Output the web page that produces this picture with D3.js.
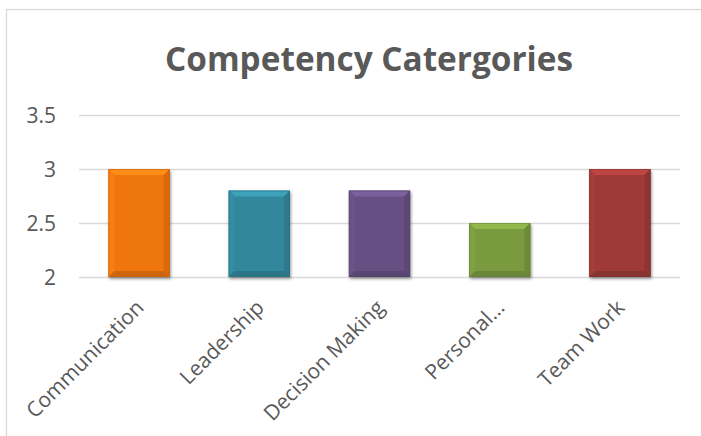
<!DOCTYPE html>
<html>
<head>
<meta charset="utf-8">
<script src="https://cdn.jsdelivr.net/npm/d3@7"></script>
<style>
  html, body { margin: 0; padding: 0; background: #fff; }
  svg { display: block; }
  text { font-family: "Open Sans", "DejaVu Sans", sans-serif; fill: #595959; }
</style>
</head>
<body>
<svg id="chart" width="701" height="436"></svg>
<script>
// Average score per competency category
const categories = ["Communication", "Leadership", "Decision Making", "Personal…", "Team Work"];
const scores = [3.0, 2.8, 2.8, 2.5, 3.0];
const barColors = ["#EF7611", "#32879C", "#665083", "#7A9A3F", "#9E3A38"];
const yTicks = [2, 2.5, 3, 3.5];
const yTickLabels = ["2", "2.5", "3", "3.5"];
const title = "Competency Catergories";

const svg = d3.select("#chart");
const plot = { left: 79, right: 680, top: 115, bottom: 277 };

// chart frame
svg.append("rect")
  .attr("x", 6.5).attr("y", 9.5)
  .attr("width", 760).attr("height", 500)
  .attr("fill", "#fff").attr("stroke", "#d9d9d9").attr("stroke-width", 1.3);

// soft drop shadow under the bars
const defs = svg.append("defs");
const shadow = defs.append("filter").attr("id", "shadow")
  .attr("x", "-20%").attr("y", "-20%").attr("width", "140%").attr("height", "140%");
shadow.append("feGaussianBlur").attr("in", "SourceAlpha").attr("stdDeviation", 1.6);
shadow.append("feOffset").attr("dx", 0.5).attr("dy", 1.5).attr("result", "blur");
shadow.append("feComponentTransfer").append("feFuncA").attr("type", "linear").attr("slope", 0.4);
const merge = shadow.append("feMerge");
merge.append("feMergeNode");
merge.append("feMergeNode").attr("in", "SourceGraphic");

const x = d3.scaleBand().domain(categories).range([plot.left, plot.right]).paddingInner(0.49).paddingOuter(0.245);
const y = d3.scaleLinear().domain([2, 3.5]).range([plot.bottom, plot.top]);

// title
svg.append("text")
  .attr("x", 369).attr("y", 71)
  .attr("text-anchor", "middle")
  .attr("textLength", 408).attr("lengthAdjust", "spacingAndGlyphs")
  .style("font-size", "34px").style("font-weight", "700")
  .text(title);

// gridlines
svg.append("g").selectAll("line").data(yTicks).join("line")
  .attr("x1", plot.left).attr("x2", plot.right)
  .attr("y1", d => Math.round(y(d)) + 0.5).attr("y2", d => Math.round(y(d)) + 0.5)
  .attr("stroke", "#d9d9d9").attr("stroke-width", 1.3);

// y axis labels
const yAxis = d3.axisLeft(y).tickValues(yTicks)
  .tickFormat((d, i) => yTickLabels[i]).tickSize(0).tickPadding(0);
const gy = svg.append("g").attr("transform", "translate(56,0)").call(yAxis);
gy.select(".domain").remove();
gy.selectAll("text").style("font-size", "21px").attr("fill", "#595959").attr("dy", "0.34em")
  .style("font-family", '"Open Sans", sans-serif');

// bars with bevelled edges
const bev = 6;
const bars = svg.append("g").selectAll("g").data(categories).join("g")
  .attr("filter", "url(#shadow)");
bars.each(function (c, i) {
  const g = d3.select(this);
  const x0 = x(c), w = x.bandwidth();
  const y0 = y(scores[i]), y1 = y(2);
  const base = d3.color(barColors[i]);
  g.append("rect").attr("x", x0).attr("y", y0).attr("width", w).attr("height", y1 - y0).attr("fill", base);
  const pts = (arr) => arr.map(p => p.join(",")).join(" ");
  g.append("polygon").attr("points", pts([[x0, y0], [x0 + w, y0], [x0 + w - bev, y0 + bev], [x0 + bev, y0 + bev]]))
    .attr("fill", base.brighter(0.5));
  g.append("polygon").attr("points", pts([[x0, y0], [x0 + bev, y0 + bev], [x0 + bev, y1 - bev], [x0, y1]]))
    .attr("fill", base.brighter(0.12));
  g.append("polygon").attr("points", pts([[x0 + w, y0], [x0 + w, y1], [x0 + w - bev, y1 - bev], [x0 + w - bev, y0 + bev]]))
    .attr("fill", base.darker(0.3));
  g.append("polygon").attr("points", pts([[x0, y1], [x0 + bev, y1 - bev], [x0 + w - bev, y1 - bev], [x0 + w, y1]]))
    .attr("fill", base.darker(0.4));
  g.append("rect").attr("x", x0 + 0.5).attr("y", y0 + 0.5).attr("width", w - 1).attr("height", y1 - y0 - 1)
    .attr("fill", "none").attr("stroke", base.darker(0.6)).attr("stroke-opacity", 0.5);
});

// category labels, rotated
const xAxis = d3.axisBottom(x).tickSize(0).tickPadding(0);
const gx = svg.append("g").attr("transform", `translate(0,${plot.bottom})`).call(xAxis);
gx.select(".domain").remove();
gx.selectAll("text")
  .style("font-size", "21px").style("font-family", '"Open Sans", sans-serif').attr("fill", "#595959")
  .attr("text-anchor", "end")
  .attr("dy", null).attr("y", 0)
  .attr("transform", "translate(6,32) rotate(-45)");
</script>
</body>
</html>
